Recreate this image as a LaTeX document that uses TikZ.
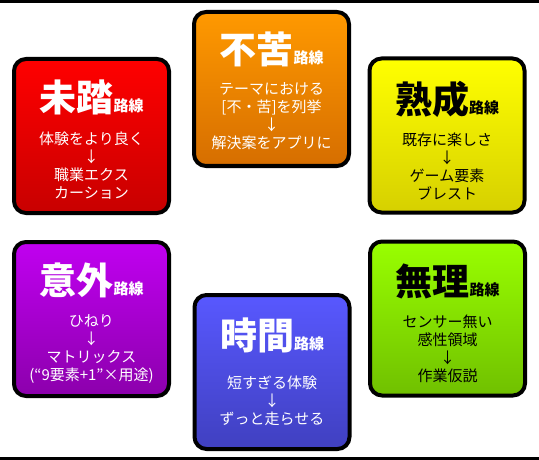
\documentclass[tikz,border=0pt]{standalone}
\usepackage{fontspec}
\newfontfamily\jp{Noto Sans CJK JP}
\definecolor{redT}{RGB}{255,0,0}\definecolor{redB}{RGB}{200,0,0}
\definecolor{oraT}{RGB}{255,153,0}\definecolor{oraB}{RGB}{214,110,0}
\definecolor{yelT}{RGB}{255,255,0}\definecolor{yelB}{RGB}{214,208,0}
\definecolor{purT}{RGB}{192,0,240}\definecolor{purB}{RGB}{140,0,172}
\definecolor{bluT}{RGB}{88,88,255}\definecolor{bluB}{RGB}{64,64,192}
\definecolor{grnT}{RGB}{153,255,0}\definecolor{grnB}{RGB}{112,192,0}
\tikzset{
  lane/.style={draw=black, line width=4pt, rounded corners=12pt,
    minimum width=155pt, minimum height=154pt, inner sep=0pt},
  ttl/.style={inner sep=0pt, font=\jp\bfseries},
  bodytxt/.style={inner sep=0pt, align=center, font=\jp\fontsize{15}{18}\selectfont},
}
\newcommand{\lanetitle}[1]{{\fontsize{37}{37}\selectfont #1}{\fontsize{15}{15}\selectfont 路線}}
\begin{document}
\begin{tikzpicture}[x=1pt,y=-1pt]
\useasboundingbox (0,0) rectangle (539,460);
\fill[white] (0,0) rectangle (539,460);
\fill[black] (0,0) rectangle (539,3);
\fill[black] (0,457) rectangle (539,460);
% boxes
\node[lane, top color=redT, bottom color=redB] (r) at (91.5,136) {};
\node[lane, top color=oraT, bottom color=oraB] (o) at (271.5,89) {};
\node[lane, top color=yelT, bottom color=yelB] (y) at (447,135.5) {};
\node[lane, top color=purT, bottom color=purB] (p) at (91.5,319) {};
\node[lane, top color=bluT, bottom color=bluB] (b) at (272,372) {};
\node[lane, top color=grnT, bottom color=grnB] (g) at (447.5,318.5) {};
% titles
\node[ttl, text=white] (rt) at ([shift={(0,-39)}]r.center) {\lanetitle{未踏}};
\node[ttl, text=white] (ot) at ([shift={(0,-40)}]o.center) {\lanetitle{不苦}};
\node[ttl, text=black] (yt) at ([shift={(0,-36)}]y.center) {\lanetitle{熟成}};
\node[ttl, text=white] (pt) at ([shift={(0,-39)}]p.center) {\lanetitle{意外}};
\node[ttl, text=white] (bt) at ([shift={(0,-37)}]b.center) {\lanetitle{時間}};
\node[ttl, text=black] (gt) at ([shift={(0,-37)}]g.center) {\lanetitle{無理}};
% bodies
\node[bodytxt, text=white] (rb) at ([shift={(0,30)}]r.center) {体験をより良く\\↓\\職業エクス\\カーション};
\node[bodytxt, text=white] (ob) at ([shift={(0,27)}]o.center) {テーマにおける\\{}{[}不・苦{]}を列挙\\↓\\解決案をアプリに};
\node[bodytxt, text=black] (yb) at ([shift={(0,31)}]y.center) {既存に楽しさ\\↓\\ゲーム要素\\ブレスト};
\node[bodytxt, text=white] (pb) at ([shift={(0,30)}]p.center) {ひねり\\↓\\マトリックス\\(“9要素+1”×用途)};
\node[bodytxt, text=white] (bb) at ([shift={(0,29)}]b.center) {短すぎる体験\\↓\\ずっと走らせる};
\node[bodytxt, text=black] (gb) at ([shift={(0,30)}]g.center) {センサー無い\\感性領域\\↓\\作業仮説};
\end{tikzpicture}
\end{document}
